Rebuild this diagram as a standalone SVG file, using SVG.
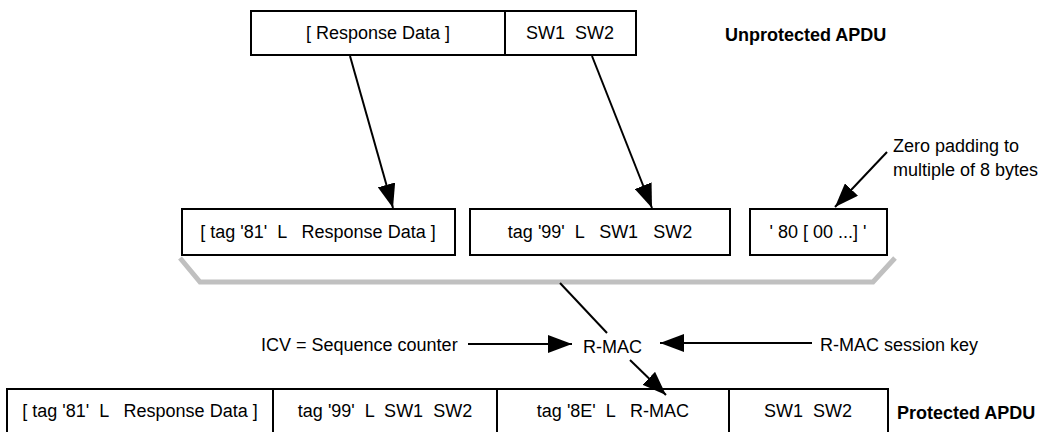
<svg xmlns="http://www.w3.org/2000/svg" width="1058" height="432" viewBox="0 0 1058 432">
<style>
  text { font-family: "Liberation Sans", Arial, sans-serif; font-size: 18px; fill: #000; }
  .c { text-anchor: middle; }
  .b { font-weight: bold; }
  .box { fill: #fff; stroke: #000; stroke-width: 2; }
  .ln { fill: none; stroke: #000; stroke-width: 2; }
  .arr { marker-end: url(#ah); }
  .brk { fill: none; stroke: #c0c0c0; stroke-width: 5; stroke-linejoin: miter; }
</style>
<defs>
  <marker id="ah" viewBox="0 0 24 18" refX="24" refY="9" markerWidth="24" markerHeight="18" markerUnits="userSpaceOnUse" orient="auto">
    <path d="M0,0 L24,9 L0,18 z" fill="#000"/>
  </marker>
</defs>
<rect width="1058" height="432" fill="#fff"/>

<g id="unprotected">
  <rect class="box" x="251" y="11" width="385" height="44"/>
  <line class="ln" x1="505" y1="11" x2="505" y2="55"/>
  <text class="c" x="378" y="39">[ Response Data ]</text>
  <text class="c" x="570" y="39" xml:space="preserve">SW1  SW2</text>
</g>
<g id="label-unprotected"><text class="b" x="725" y="41">Unprotected APDU</text></g>

<g id="m1">
  <rect class="box" x="182" y="209" width="273" height="46"/>
  <text class="c" x="318" y="238" xml:space="preserve">[ tag '81'  L   Response Data ]</text>
</g>
<g id="m2">
  <rect class="box" x="470" y="209" width="260" height="46"/>
  <text class="c" x="600" y="238" xml:space="preserve">tag '99'  L   SW1   SW2</text>
</g>
<g id="m3">
  <rect class="box" x="750" y="209" width="137" height="46"/>
  <text class="c" x="818" y="238" xml:space="preserve">' 80 [ 00 ...] '</text>
</g>
<g id="note-padding">
  <text x="893" y="152">Zero padding to</text>
  <text x="893" y="176">multiple of 8 bytes</text>
</g>

<g id="bracket"><path class="brk" d="M180,258 L200,282 L873,282 L895,258"/></g>

<g id="icv"><text x="261" y="351">ICV = Sequence counter</text></g>
<g id="rmac"><text x="583" y="353">R-MAC</text></g>
<g id="key"><text x="820" y="351">R-MAC session key</text></g>

<g id="protected">
  <rect class="box" x="7" y="389" width="881" height="50"/>
  <line class="ln" x1="273" y1="389" x2="273" y2="439"/>
  <line class="ln" x1="497" y1="389" x2="497" y2="439"/>
  <line class="ln" x1="729" y1="389" x2="729" y2="439"/>
  <text class="c" x="140" y="417" xml:space="preserve">[ tag '81'  L   Response Data ]</text>
  <text class="c" x="385" y="417" xml:space="preserve">tag '99'  L  SW1  SW2</text>
  <text class="c" x="613" y="417" xml:space="preserve">tag '8E'  L   R-MAC</text>
  <text class="c" x="808" y="417" xml:space="preserve">SW1  SW2</text>
</g>
<g id="label-protected"><text class="b" x="897" y="419">Protected APDU</text></g>

<g id="connectors">
  <line class="ln arr" x1="350" y1="56" x2="393" y2="208"/>
  <line class="ln arr" x1="592" y1="56" x2="652" y2="208"/>
  <line class="ln arr" x1="887" y1="152" x2="835" y2="207"/>
  <line class="ln" x1="560" y1="283" x2="607" y2="333"/>
  <line class="ln arr" x1="468" y1="344" x2="572" y2="344"/>
  <line class="ln arr" x1="812" y1="343" x2="660" y2="343"/>
  <line class="ln arr" x1="630" y1="360" x2="666" y2="395"/>
</g>
</svg>
